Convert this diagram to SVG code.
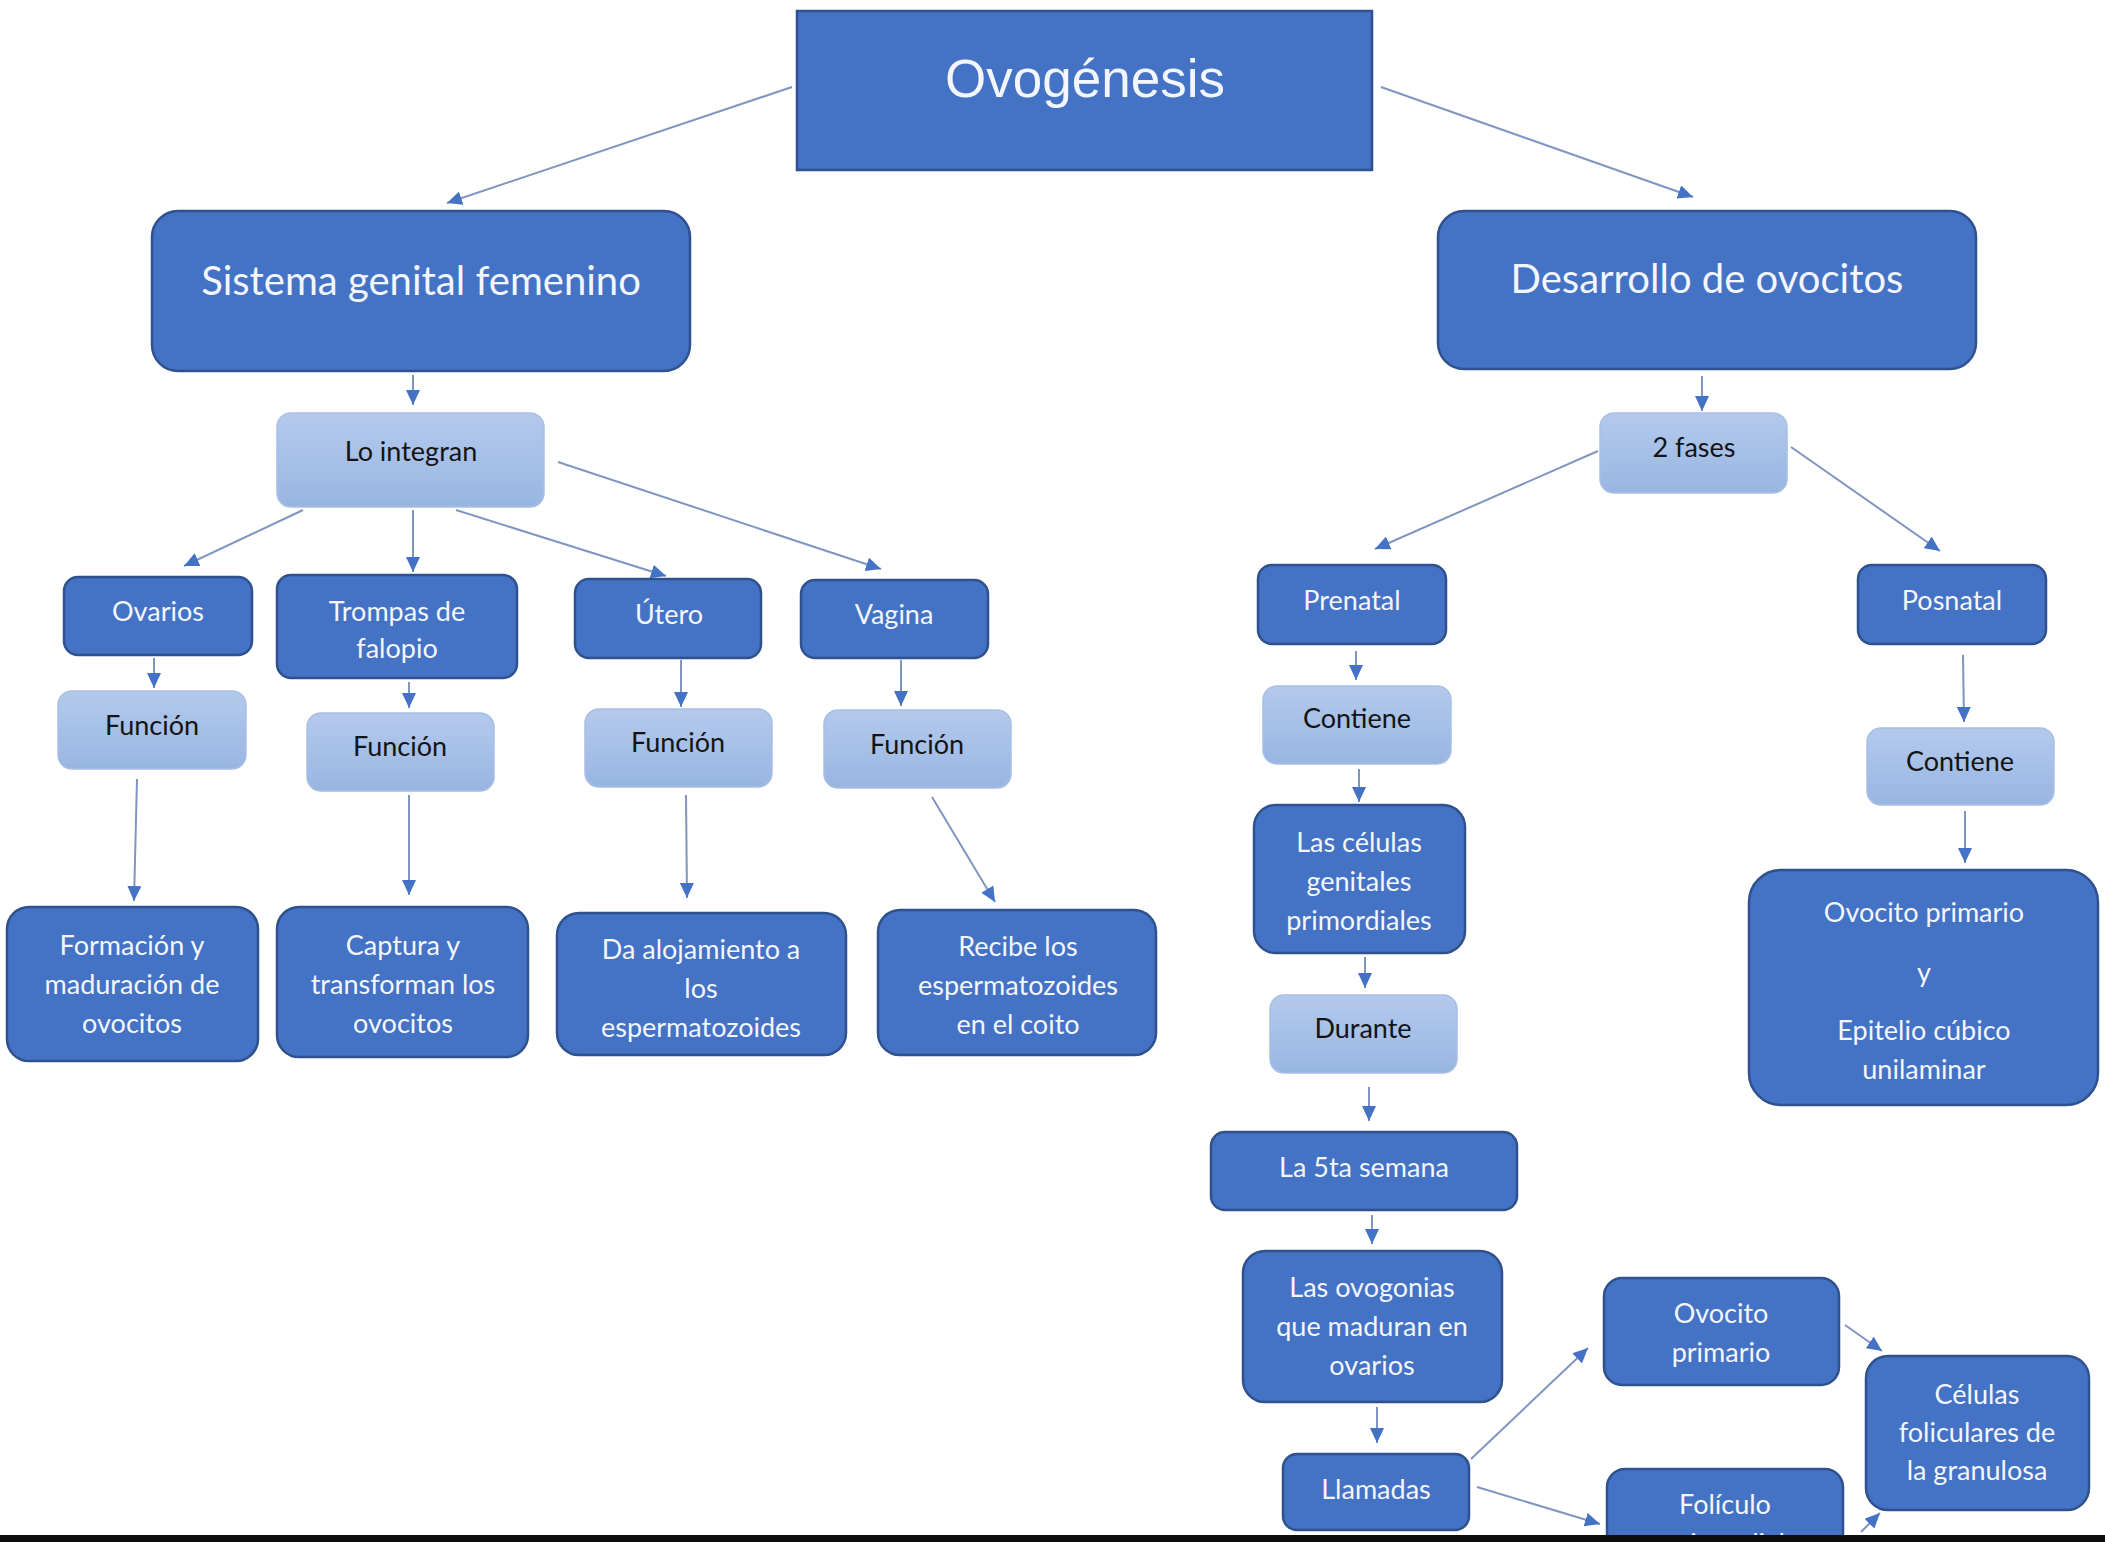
<svg xmlns="http://www.w3.org/2000/svg" width="2105" height="1542" viewBox="0 0 2105 1542">
  <defs>
    <linearGradient id="lg" x1="0" y1="0" x2="0" y2="1">
      <stop offset="0" stop-color="#B4CAEC"/>
      <stop offset="1" stop-color="#98B5E2"/>
    </linearGradient>
    <marker id="ah" markerUnits="userSpaceOnUse" markerWidth="16" markerHeight="14" refX="15" refY="7" orient="auto">
      <path d="M0,0 L15,7 L0,14 z" fill="#4472C4"/>
    </marker>
  </defs>
  <style>
    .dk { fill:#4472C4; stroke:#2F528F; stroke-width:2.5; }
    .lt { fill:url(#lg); stroke:#A9BFE3; stroke-width:1.5; }
    .tw { fill:#F3F6FC; font-family:Lato, "Open Sans", sans-serif; font-size:27px; text-anchor:middle; }
    .tb { fill:#141414; font-family:Lato, "Open Sans", sans-serif; font-size:27px; text-anchor:middle; }
    .big { font-size:40px; }
    .c { fill:none; stroke:#8095BF; stroke-width:2; marker-end:url(#ah); }
  </style>
  <rect width="2105" height="1542" fill="#FFFFFF"/>

  <g id="connectors">
    <line class="c" x1="792" y1="87" x2="447" y2="203"/>
    <line class="c" x1="1381" y1="87" x2="1693" y2="197"/>
    <line class="c" x1="413" y1="375" x2="413" y2="405"/>
    <line class="c" x1="303" y1="510" x2="184" y2="566"/>
    <line class="c" x1="413" y1="510" x2="413" y2="572"/>
    <line class="c" x1="456" y1="510" x2="666" y2="576"/>
    <line class="c" x1="558" y1="462" x2="881" y2="569"/>
    <line class="c" x1="154" y1="658" x2="154" y2="688"/>
    <line class="c" x1="409" y1="682" x2="409" y2="708"/>
    <line class="c" x1="681" y1="660" x2="681" y2="707"/>
    <line class="c" x1="901" y1="660" x2="901" y2="706"/>
    <line class="c" x1="137" y1="779" x2="134" y2="901"/>
    <line class="c" x1="409" y1="795" x2="409" y2="895"/>
    <line class="c" x1="686" y1="795" x2="687" y2="898"/>
    <line class="c" x1="932" y1="797" x2="995" y2="902"/>
    <line class="c" x1="1702" y1="376" x2="1702" y2="411"/>
    <line class="c" x1="1598" y1="451" x2="1375" y2="549"/>
    <line class="c" x1="1791" y1="447" x2="1940" y2="551"/>
    <line class="c" x1="1356" y1="651" x2="1356" y2="680"/>
    <line class="c" x1="1359" y1="769" x2="1359" y2="802"/>
    <line class="c" x1="1365" y1="957" x2="1365" y2="988"/>
    <line class="c" x1="1369" y1="1087" x2="1369" y2="1121"/>
    <line class="c" x1="1372" y1="1215" x2="1372" y2="1244"/>
    <line class="c" x1="1377" y1="1407" x2="1377" y2="1443"/>
    <line class="c" x1="1471" y1="1459" x2="1588" y2="1348"/>
    <line class="c" x1="1477" y1="1487" x2="1600" y2="1524"/>
    <line class="c" x1="1845" y1="1325" x2="1882" y2="1351"/>
    <line class="c" x1="1861" y1="1532" x2="1880" y2="1513"/>
    <line class="c" x1="1963" y1="655" x2="1964" y2="722"/>
    <line class="c" x1="1965" y1="811" x2="1965" y2="863"/>
  </g>

  <!-- root -->
  <g id="ovogenesis">
    <rect x="797" y="11" width="575" height="159" fill="#4472C4" stroke="#2F528F" stroke-width="2.5"/>
    <text x="1085" y="97" fill="#F3F6FC" font-family="'Liberation Sans', Arial, sans-serif" font-size="53" text-anchor="middle">Ovogénesis</text>
  </g>

  <!-- left branch -->
  <g id="sistema-genital">
    <rect class="dk" x="152" y="211" width="538" height="160" rx="26"/>
    <text class="tw big" x="421" y="295">Sistema genital femenino</text>
  </g>
  <g id="lo-integran">
    <rect class="lt" x="277" y="413" width="267" height="94" rx="14"/>
    <text class="tb" x="411" y="461">Lo integran</text>
  </g>
  <g id="ovarios">
    <rect class="dk" x="64" y="577" width="188" height="78" rx="14"/>
    <text class="tw" x="158" y="621">Ovarios</text>
  </g>
  <g id="trompas">
    <rect class="dk" x="277" y="575" width="240" height="103" rx="14"/>
    <text class="tw" x="397" y="621">Trompas de</text>
    <text class="tw" x="397" y="658">falopio</text>
  </g>
  <g id="utero">
    <rect class="dk" x="575" y="579" width="186" height="79" rx="14"/>
    <text class="tw" x="669" y="624">Útero</text>
  </g>
  <g id="vagina">
    <rect class="dk" x="801" y="580" width="187" height="78" rx="14"/>
    <text class="tw" x="894" y="624">Vagina</text>
  </g>
  <g id="funcion-ovarios">
    <rect class="lt" x="58" y="691" width="188" height="78" rx="14"/>
    <text class="tb" x="152" y="735">Función</text>
  </g>
  <g id="funcion-trompas">
    <rect class="lt" x="307" y="713" width="187" height="78" rx="14"/>
    <text class="tb" x="400" y="756">Función</text>
  </g>
  <g id="funcion-utero">
    <rect class="lt" x="585" y="709" width="187" height="78" rx="14"/>
    <text class="tb" x="678" y="752">Función</text>
  </g>
  <g id="funcion-vagina">
    <rect class="lt" x="824" y="710" width="187" height="78" rx="14"/>
    <text class="tb" x="917" y="754">Función</text>
  </g>
  <g id="formacion">
    <rect class="dk" x="7" y="907" width="251" height="154" rx="22"/>
    <text class="tw" x="132" y="955">Formación y</text>
    <text class="tw" x="132" y="994">maduración de</text>
    <text class="tw" x="132" y="1033">ovocitos</text>
  </g>
  <g id="captura">
    <rect class="dk" x="277" y="907" width="251" height="150" rx="22"/>
    <text class="tw" x="403" y="955">Captura y</text>
    <text class="tw" x="403" y="994">transforman los</text>
    <text class="tw" x="403" y="1033">ovocitos</text>
  </g>
  <g id="alojamiento">
    <rect class="dk" x="557" y="913" width="289" height="142" rx="22"/>
    <text class="tw" x="701" y="959">Da alojamiento a</text>
    <text class="tw" x="701" y="998">los</text>
    <text class="tw" x="701" y="1037">espermatozoides</text>
  </g>
  <g id="recibe">
    <rect class="dk" x="878" y="910" width="278" height="145" rx="22"/>
    <text class="tw" x="1018" y="956">Recibe los</text>
    <text class="tw" x="1018" y="995">espermatozoides</text>
    <text class="tw" x="1018" y="1034">en el coito</text>
  </g>

  <!-- right branch -->
  <g id="desarrollo">
    <rect class="dk" x="1438" y="211" width="538" height="158" rx="26"/>
    <text class="tw big" x="1707" y="293">Desarrollo de ovocitos</text>
  </g>
  <g id="dos-fases">
    <rect class="lt" x="1600" y="413" width="187" height="80" rx="14"/>
    <text class="tb" x="1694" y="457">2 fases</text>
  </g>
  <g id="prenatal">
    <rect class="dk" x="1258" y="565" width="188" height="79" rx="14"/>
    <text class="tw" x="1352" y="610">Prenatal</text>
  </g>
  <g id="posnatal">
    <rect class="dk" x="1858" y="565" width="188" height="79" rx="14"/>
    <text class="tw" x="1952" y="610">Posnatal</text>
  </g>
  <g id="contiene-prenatal">
    <rect class="lt" x="1263" y="686" width="188" height="78" rx="14"/>
    <text class="tb" x="1357" y="728">Contiene</text>
  </g>
  <g id="contiene-posnatal">
    <rect class="lt" x="1867" y="728" width="187" height="77" rx="14"/>
    <text class="tb" x="1960" y="771">Contiene</text>
  </g>
  <g id="celulas-genitales">
    <rect class="dk" x="1254" y="805" width="211" height="148" rx="22"/>
    <text class="tw" x="1359" y="852">Las células</text>
    <text class="tw" x="1359" y="891">genitales</text>
    <text class="tw" x="1359" y="930">primordiales</text>
  </g>
  <g id="durante">
    <rect class="lt" x="1270" y="995" width="187" height="78" rx="14"/>
    <text class="tb" x="1363" y="1038">Durante</text>
  </g>
  <g id="ovocito-epitelio">
    <rect class="dk" x="1749" y="870" width="349" height="235" rx="32"/>
    <text class="tw" x="1924" y="922">Ovocito primario</text>
    <text class="tw" x="1924" y="982">y</text>
    <text class="tw" x="1924" y="1040">Epitelio cúbico</text>
    <text class="tw" x="1924" y="1079">unilaminar</text>
  </g>
  <g id="quinta-semana">
    <rect class="dk" x="1211" y="1132" width="306" height="78" rx="14"/>
    <text class="tw" x="1364" y="1177">La 5ta semana</text>
  </g>
  <g id="ovogonias">
    <rect class="dk" x="1243" y="1251" width="259" height="151" rx="22"/>
    <text class="tw" x="1372" y="1297">Las ovogonias</text>
    <text class="tw" x="1372" y="1336">que maduran en</text>
    <text class="tw" x="1372" y="1375">ovarios</text>
  </g>
  <g id="llamadas">
    <rect class="dk" x="1283" y="1454" width="186" height="76" rx="14"/>
    <text class="tw" x="1376" y="1499">Llamadas</text>
  </g>
  <g id="ovocito-primario">
    <rect class="dk" x="1604" y="1278" width="235" height="107" rx="18"/>
    <text class="tw" x="1721" y="1323">Ovocito</text>
    <text class="tw" x="1721" y="1362">primario</text>
  </g>
  <g id="celulas-foliculares">
    <rect class="dk" x="1866" y="1356" width="223" height="154" rx="22"/>
    <text class="tw" x="1977" y="1404">Células</text>
    <text class="tw" x="1977" y="1442">foliculares de</text>
    <text class="tw" x="1977" y="1480">la granulosa</text>
  </g>
  <g id="foliculo-primordial">
    <rect class="dk" x="1607" y="1469" width="236" height="110" rx="18"/>
    <text class="tw" x="1725" y="1514">Folículo</text>
    <text class="tw" x="1725" y="1553">primordial</text>
  </g>

  <!-- dark strip along the lower edge -->
  <rect x="0" y="1535" width="2105" height="7" fill="#0D0D0D"/>
</svg>
